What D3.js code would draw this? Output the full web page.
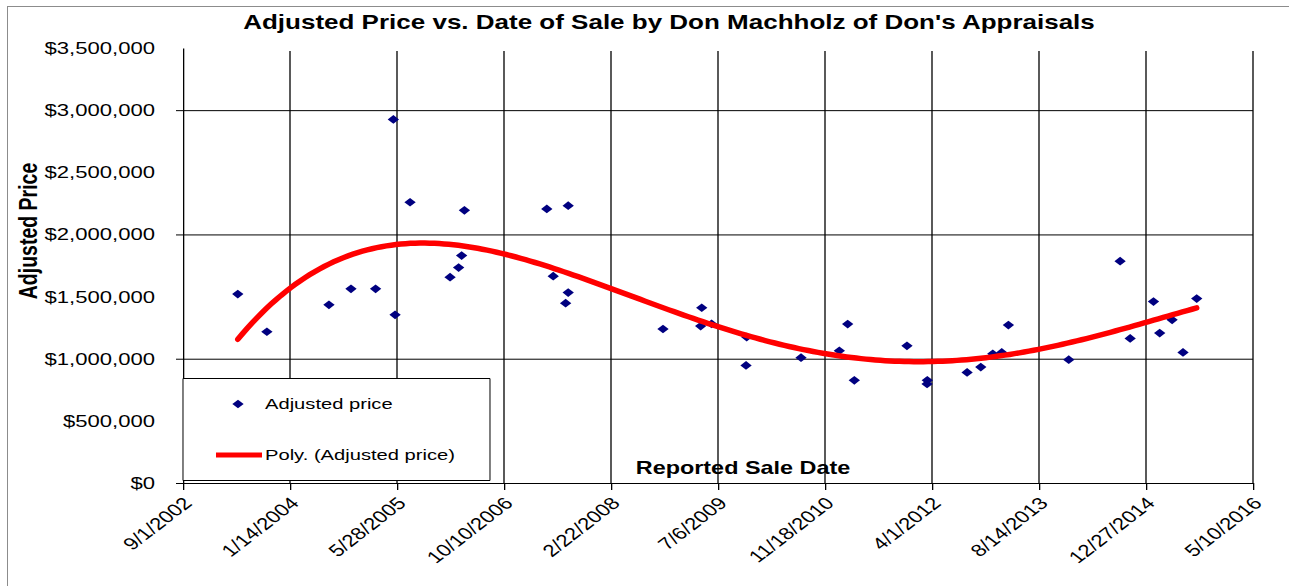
<!DOCTYPE html>
<html>
<head>
<meta charset="utf-8">
<script src="https://cdn.jsdelivr.net/npm/d3@7"></script>
<style>
  body { margin: 0; background: #fff; }
  text { font-family: "Liberation Sans", Arial, sans-serif; fill: #000; }
</style>
</head>
<body>
<div id="grafica"></div>
<script>
// datos
var fechasVenta = ["2003-05-15", "2003-09-28", "2004-07-14", "2004-10-25", "2005-02-17", "2005-05-11",
	"2005-05-19", "2005-07-28", "2006-01-31", "2006-03-12", "2006-03-26", "2006-04-08", "2007-04-28",
	"2007-05-28", "2007-07-25", "2007-08-06", "2007-08-06", "2008-10-22", "2009-04-16", "2009-04-21",
	"2009-06-06", "2009-11-14", "2009-11-17", "2010-07-29", "2011-01-24", "2011-03-04", "2011-04-04",
	"2011-12-06", "2012-03-09", "2012-03-10", "2012-09-12", "2012-11-15", "2013-01-10", "2013-02-21",
	"2013-03-24", "2013-12-31", "2014-08-28", "2014-10-14", "2015-01-31", "2015-03-01", "2015-04-28",
	"2015-06-18", "2015-08-21"];
var preciosAjustados = [1520000, 1217000, 1434000, 1562000, 1562000, 2925000,
	1353000, 2259000, 1656000, 1733000, 1830000, 2194000, 2205000,
	1664000, 1447000, 2231000, 1532000, 1239000, 1263000, 1410000,
	1281000, 946000, 1174000, 1008000, 1064000, 1279000, 826000,
	1104000, 797000, 826000, 890000, 933000, 1040000, 1051000,
	1271000, 992000, 1785000, 1163000, 1460000, 1206000, 1313000,
	1051000, 1484000];
var etiquetasX = ["9/1/2002", "1/14/2004", "5/28/2005", "10/10/2006", "2/22/2008", "7/6/2009",
	"11/18/2010", "4/1/2012", "8/14/2013", "12/27/2014", "5/10/2016"];
var valoresY = [0, 500000, 1000000, 1500000, 2000000, 2500000, 3000000, 3500000];
var lineasY = [1000000, 2000000, 3000000];
var ordenPoli = 4;

var S = 1.3; // la imagen original esta estirada a lo ancho
function px(v) { return v / S; }

var leerFecha = d3.utcParse("%Y-%m-%d");
var leerEtiqueta = d3.utcParse("%m/%d/%Y");
var puntos = fechasVenta.map(function (f, i) { return { fecha: leerFecha(f), precio: preciosAjustados[i] }; });
var fechasTicks = etiquetasX.map(leerEtiqueta);

var w = 1289, h = 586;
var svg = d3.select('#grafica').append('svg')
	.attr("width", w)
	.attr("height", h);

svg.append("rect").attr("width", w).attr("height", h).attr("fill", "#fff");
svg.append("line").attr("x1", 7).attr("x2", w).attr("y1", 6.5).attr("y2", 6.5).attr("stroke", "#8c8c8c");
svg.append("line").attr("x1", 7.5).attr("x2", 7.5).attr("y1", 6).attr("y2", h).attr("stroke", "#8c8c8c");

var g = svg.append("g").attr("transform", "scale(" + S + ",1)");

var x = d3.scaleUtc()
	.domain([fechasTicks[0], fechasTicks[fechasTicks.length - 1]])
	.range([px(183), px(1253)]);
var y = d3.scaleLinear()
	.domain([0, 3500000])
	.range([483, 48]);

// rejilla
g.selectAll(".vgrid")
	.data(fechasTicks.slice(1))
	.enter().append("line")
	.attr("x1", function (d) { return x(d); })
	.attr("x2", function (d) { return x(d); })
	.attr("y1", y(3500000) + 3)
	.attr("y2", y(0))
	.attr("stroke", "#000")
	.attr("stroke-width", 1);
g.selectAll(".hgrid")
	.data(lineasY)
	.enter().append("line")
	.attr("x1", x.range()[0])
	.attr("x2", x.range()[1])
	.attr("y1", function (d) { return y(d) + 0.5; })
	.attr("y2", function (d) { return y(d) + 0.5; })
	.attr("stroke", "#000")
	.attr("vector-effect", "non-scaling-stroke");

// ejes
var ejeY = g.append("g")
	.attr("transform", "translate(" + x.range()[0] + ",0)")
	.call(d3.axisLeft(y).tickValues(valoresY).tickFormat(d3.format("$,.0f")).tickSizeInner(0).tickSizeOuter(0).tickPadding(px(28)));
ejeY.selectAll(".tick line").attr("x2", function (d) { return d % 1000000 === 0 && d < 3500000 ? -px(7) : 0; });
ejeY.selectAll("text").attr("font-size", 17).attr("font-family", "Liberation Sans, Arial, sans-serif");
ejeY.select(".domain").attr("stroke", "#000");

var ejeX = g.append("g")
	.attr("transform", "translate(0," + y(0) + ")")
	.call(d3.axisBottom(x).tickValues(fechasTicks).tickFormat(function (d, i) { return etiquetasX[i]; }).tickSizeInner(7).tickSizeOuter(0));
ejeX.select(".domain").attr("stroke", "#000").attr("vector-effect", "non-scaling-stroke");
ejeX.selectAll(".tick line").attr("stroke", "#000");
ejeX.selectAll("text")
	.attr("font-size", 17)
	.attr("font-family", "Liberation Sans, Arial, sans-serif")
	.attr("text-anchor", "end")
	.attr("x", 0).attr("y", 0).attr("dy", "0.35em")
	.attr("transform", "translate(" + px(4) + ",17) rotate(-45)");

// puntos
g.selectAll(".punto")
	.data(puntos)
	.enter().append("path")
	.attr("d", d3.symbol(d3.symbolSquare, 38))
	.attr("transform", function (d) { return "translate(" + x(d.fecha) + "," + y(d.precio) + ") rotate(45)"; })
	.attr("fill", "#000080");

// tendencia polinomica (minimos cuadrados)
function ajustar(datos, orden) {
	var t0 = d3.mean(datos, function (d) { return +d.fecha; });
	var esc = (d3.max(datos, function (d) { return +d.fecha; }) - d3.min(datos, function (d) { return +d.fecha; })) / 2;
	var n = orden + 1;
	var A = [], b = [];
	for (var r = 0; r < n; r++) { A.push(new Array(n).fill(0)); b.push(0); }
	datos.forEach(function (d) {
		var t = (d.fecha - t0) / esc;
		for (var r = 0; r < n; r++) {
			for (var c = 0; c < n; c++) A[r][c] += Math.pow(t, r + c);
			b[r] += d.precio * Math.pow(t, r);
		}
	});
	for (var k = 0; k < n; k++) {
		var p = k;
		for (var r = k + 1; r < n; r++) if (Math.abs(A[r][k]) > Math.abs(A[p][k])) p = r;
		var tmp = A[k]; A[k] = A[p]; A[p] = tmp;
		var tb = b[k]; b[k] = b[p]; b[p] = tb;
		for (var r = k + 1; r < n; r++) {
			var f = A[r][k] / A[k][k];
			for (var c = k; c < n; c++) A[r][c] -= f * A[k][c];
			b[r] -= f * b[k];
		}
	}
	var coef = new Array(n).fill(0);
	for (var k = n - 1; k >= 0; k--) {
		var s = b[k];
		for (var c = k + 1; c < n; c++) s -= A[k][c] * coef[c];
		coef[k] = s / A[k][k];
	}
	return function (fecha) {
		var t = (fecha - t0) / esc, v = 0;
		for (var k = n - 1; k >= 0; k--) v = v * t + coef[k];
		return v;
	};
}
var poli = ajustar(puntos, ordenPoli);
var ini = +puntos[0].fecha, fin = +puntos[puntos.length - 1].fecha;
var curva = d3.range(0, 201).map(function (i) {
	var f = new Date(ini + (fin - ini) * i / 200);
	return { fecha: f, precio: poli(f) };
});
g.append("path")
	.datum(curva)
	.attr("d", d3.line().x(function (d) { return x(d.fecha); }).y(function (d) { return y(d.precio); }))
	.attr("fill", "none")
	.attr("stroke", "#ff0000")
	.attr("stroke-width", 5.5)
	.attr("stroke-linecap", "round")
	.attr("vector-effect", "non-scaling-stroke");

// leyenda
var ley = g.append("g");
ley.append("rect")
	.attr("x", px(183)).attr("y", 378.5)
	.attr("width", px(307)).attr("height", 102)
	.attr("fill", "#fff").attr("stroke", "#000")
	.attr("vector-effect", "non-scaling-stroke");
ley.append("path")
	.attr("d", d3.symbol(d3.symbolSquare, 38))
	.attr("transform", "translate(" + px(238) + ",404) rotate(45)")
	.attr("fill", "#000080");
ley.append("text").attr("x", px(265)).attr("y", 409.5).attr("font-size", 15.5).text("Adjusted price");
ley.append("line")
	.attr("x1", px(216)).attr("x2", px(262)).attr("y1", 455).attr("y2", 455)
	.attr("stroke", "#ff0000").attr("stroke-width", 5)
	.attr("vector-effect", "non-scaling-stroke");
ley.append("text").attr("x", px(265)).attr("y", 460.5).attr("font-size", 15.5).text("Poly. (Adjusted price)");

// titulos
g.append("text")
	.attr("x", px(669)).attr("y", 29)
	.attr("text-anchor", "middle")
	.attr("font-size", 20).attr("font-weight", "bold")
	.text("Adjusted Price vs. Date of Sale by Don Machholz of Don's Appraisals");
g.append("text")
	.attr("transform", "translate(" + px(37) + ",231) rotate(-90)")
	.attr("text-anchor", "middle")
	.attr("font-size", 19.5).attr("font-weight", "bold")
	.text("Adjusted Price");
g.append("text")
	.attr("x", px(743)).attr("y", 474)
	.attr("text-anchor", "middle")
	.attr("font-size", 18).attr("font-weight", "bold")
	.text("Reported Sale Date");
</script>
</body>
</html>
